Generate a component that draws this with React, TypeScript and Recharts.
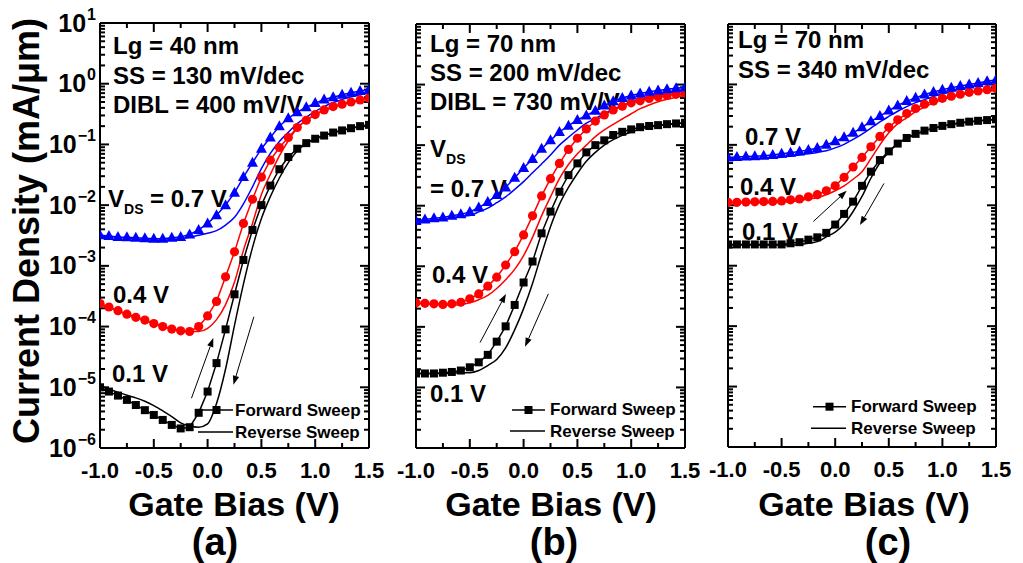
import { ComposedChart, Line, XAxis, YAxis, ReferenceLine } from 'recharts'

const FONT = '"Liberation Sans", Arial, Helvetica, sans-serif'

// gate bias sweep points (V), same grid in all three panels
const gateBias = [
  -1.0, -0.917, -0.833, -0.75, -0.667, -0.583, -0.5, -0.417, -0.333, -0.25, -0.167,
  -0.083, 0.0, 0.083, 0.167, 0.25, 0.333, 0.417, 0.5, 0.583, 0.667, 0.75, 0.833,
  0.917, 1.0, 1.083, 1.167, 1.25, 1.333, 1.417, 1.5
]

// (a) Lg = 40 nm  -- current density in mA/um
const aFwd01 = [1.0e-5, 8.5e-6, 7.3e-6, 6.2e-6, 5.1e-6, 4.2e-6, 3.5e-6, 2.9e-6, 2.4e-6, 2.1e-6, 2.2e-6, 3.8e-6, 8.5e-6, 2.5e-5, 9.0e-5, 3.4e-4, 1.25e-3, 3.9e-3, 1.0e-2, 2.1e-2, 3.9e-2, 6.2e-2, 8.5e-2, 0.105, 0.124, 0.14, 0.157, 0.17, 0.185, 0.2, 0.21]
const aRev01 = [1.05e-5, 9.3e-6, 8.3e-6, 7.4e-6, 6.7e-6, 5.9e-6, 5.0e-6, 4.1e-6, 3.3e-6, 2.6e-6, 2.3e-6, 2.2e-6, 2.5e-6, 5.4e-6, 2.0e-5, 1.05e-4, 5.0e-4, 2.0e-3, 6.0e-3, 1.38e-2, 2.8e-2, 5.0e-2, 7.8e-2, 0.103, 0.123, 0.14, 0.156, 0.17, 0.184, 0.198, 0.21]
const aFwd04 = [2.4e-4, 2.1e-4, 1.83e-4, 1.6e-4, 1.42e-4, 1.28e-4, 1.12e-4, 1.0e-4, 9.1e-5, 8.5e-5, 8.3e-5, 1.0e-4, 1.5e-4, 2.6e-4, 6.6e-4, 1.7e-3, 5.0e-3, 1.25e-2, 2.9e-2, 5.5e-2, 8.9e-2, 0.13, 0.19, 0.25, 0.31, 0.37, 0.42, 0.46, 0.5, 0.54, 0.58]
const aRev04 = [2.3e-4, 2.05e-4, 1.8e-4, 1.6e-4, 1.42e-4, 1.27e-4, 1.12e-4, 1.0e-4, 9.2e-5, 8.6e-5, 8.3e-5, 8.3e-5, 9.3e-5, 1.3e-4, 2.3e-4, 5.4e-4, 1.8e-3, 5.0e-3, 1.5e-2, 3.2e-2, 6.5e-2, 0.115, 0.186, 0.25, 0.31, 0.36, 0.41, 0.45, 0.49, 0.53, 0.56]
const aFwd07 = [3.2e-3, 3.1e-3, 3.0e-3, 2.95e-3, 2.9e-3, 2.85e-3, 2.8e-3, 2.8e-3, 2.9e-3, 3.0e-3, 3.3e-3, 3.9e-3, 5.0e-3, 6.8e-3, 1.0e-2, 1.6e-2, 2.9e-2, 5.0e-2, 8.5e-2, 0.13, 0.2, 0.27, 0.34, 0.41, 0.48, 0.55, 0.6, 0.66, 0.71, 0.76, 0.8]
const aRev07 = [3.2e-3, 3.05e-3, 2.95e-3, 2.85e-3, 2.75e-3, 2.7e-3, 2.65e-3, 2.65e-3, 2.7e-3, 2.8e-3, 2.95e-3, 3.2e-3, 3.45e-3, 3.8e-3, 4.7e-3, 6.3e-3, 1.05e-2, 2.0e-2, 4.0e-2, 7.1e-2, 0.112, 0.158, 0.22, 0.28, 0.35, 0.42, 0.49, 0.55, 0.61, 0.66, 0.71]

// (b) Lg = 70 nm
const bFwd01 = [1.7e-5, 1.7e-5, 1.7e-5, 1.75e-5, 1.8e-5, 1.9e-5, 2.15e-5, 2.6e-5, 3.45e-5, 5.7e-5, 1.02e-4, 2.3e-4, 5.4e-4, 1.2e-3, 3.5e-3, 8.0e-3, 1.7e-2, 3.2e-2, 5.0e-2, 7.6e-2, 0.1, 0.12, 0.147, 0.166, 0.182, 0.198, 0.207, 0.214, 0.222, 0.228, 0.234]
const bRev01 = [1.7e-5, 1.7e-5, 1.7e-5, 1.7e-5, 1.72e-5, 1.75e-5, 1.75e-5, 1.9e-5, 2.3e-5, 2.9e-5, 4.5e-5, 8.9e-5, 2.0e-4, 5.2e-4, 1.6e-3, 4.5e-3, 1.05e-2, 2.0e-2, 3.4e-2, 5.4e-2, 7.6e-2, 0.1, 0.123, 0.145, 0.165, 0.185, 0.2, 0.21, 0.218, 0.225, 0.232]
const bFwd04 = [2.5e-4, 2.45e-4, 2.4e-4, 2.35e-4, 2.4e-4, 2.55e-4, 2.9e-4, 3.5e-4, 4.7e-4, 6.6e-4, 1.05e-3, 1.74e-3, 3.3e-3, 6.8e-3, 1.45e-2, 2.8e-2, 5.0e-2, 8.5e-2, 0.13, 0.185, 0.25, 0.315, 0.38, 0.44, 0.5, 0.54, 0.59, 0.63, 0.66, 0.69, 0.72]
const bRev04 = [2.5e-4, 2.4e-4, 2.35e-4, 2.3e-4, 2.3e-4, 2.35e-4, 2.5e-4, 2.8e-4, 3.3e-4, 4.3e-4, 6.0e-4, 8.9e-4, 1.5e-3, 3.0e-3, 6.8e-3, 1.4e-2, 2.8e-2, 4.8e-2, 7.2e-2, 0.1, 0.138, 0.178, 0.22, 0.27, 0.33, 0.4, 0.46, 0.52, 0.57, 0.62, 0.67]
const bFwd07 = [5.6e-3, 5.9e-3, 6.2e-3, 6.4e-3, 6.8e-3, 7.2e-3, 7.9e-3, 9.3e-3, 1.15e-2, 1.5e-2, 2.0e-2, 2.9e-2, 4.2e-2, 5.9e-2, 8.7e-2, 0.12, 0.165, 0.21, 0.26, 0.31, 0.37, 0.45, 0.53, 0.6, 0.66, 0.71, 0.76, 0.8, 0.84, 0.87, 0.9]
const bRev07 = [5.5e-3, 5.6e-3, 5.8e-3, 6.0e-3, 6.3e-3, 6.7e-3, 6.9e-3, 7.9e-3, 9.1e-3, 1.12e-2, 1.4e-2, 1.86e-2, 2.5e-2, 3.5e-2, 4.9e-2, 6.9e-2, 0.1, 0.135, 0.178, 0.23, 0.275, 0.33, 0.39, 0.45, 0.51, 0.57, 0.62, 0.67, 0.72, 0.76, 0.8]

// (c) Lg = 70 nm, SS = 340
const cFwd01 = [2.25e-3, 2.25e-3, 2.25e-3, 2.25e-3, 2.25e-3, 2.25e-3, 2.25e-3, 2.35e-3, 2.45e-3, 2.7e-3, 2.95e-3, 3.5e-3, 4.8e-3, 7.2e-3, 1.15e-2, 2.1e-2, 3.6e-2, 5.6e-2, 7.8e-2, 0.105, 0.13, 0.152, 0.172, 0.19, 0.206, 0.22, 0.232, 0.242, 0.25, 0.257, 0.265]
const cRev01 = [2.2e-3, 2.2e-3, 2.2e-3, 2.2e-3, 2.2e-3, 2.2e-3, 2.2e-3, 2.2e-3, 2.25e-3, 2.35e-3, 2.5e-3, 3.0e-3, 3.6e-3, 4.9e-3, 7.9e-3, 1.4e-2, 2.8e-2, 5.0e-2, 7.6e-2, 0.105, 0.128, 0.15, 0.17, 0.188, 0.204, 0.217, 0.229, 0.24, 0.249, 0.256, 0.264]
const cFwd04 = [1.12e-2, 1.12e-2, 1.13e-2, 1.14e-2, 1.15e-2, 1.16e-2, 1.18e-2, 1.23e-2, 1.27e-2, 1.38e-2, 1.5e-2, 1.74e-2, 2.1e-2, 2.9e-2, 4.3e-2, 6.2e-2, 9.3e-2, 0.138, 0.195, 0.26, 0.33, 0.4, 0.47, 0.53, 0.59, 0.64, 0.69, 0.74, 0.78, 0.82, 0.86]
const cRev04 = [1.1e-2, 1.1e-2, 1.1e-2, 1.1e-2, 1.1e-2, 1.1e-2, 1.13e-2, 1.15e-2, 1.2e-2, 1.27e-2, 1.33e-2, 1.5e-2, 1.74e-2, 2.1e-2, 2.7e-2, 3.6e-2, 5.9e-2, 0.1, 0.158, 0.224, 0.28, 0.355, 0.42, 0.49, 0.56, 0.62, 0.67, 0.72, 0.77, 0.81, 0.85]
const cFwd07 = [6.2e-2, 6.3e-2, 6.4e-2, 6.5e-2, 6.6e-2, 6.8e-2, 7.1e-2, 7.4e-2, 7.8e-2, 8.2e-2, 8.9e-2, 0.1, 0.115, 0.133, 0.158, 0.195, 0.245, 0.3, 0.37, 0.45, 0.53, 0.6, 0.68, 0.75, 0.82, 0.88, 0.94, 1.0, 1.06, 1.13, 1.19]
const cRev07 = [5.8e-2, 5.85e-2, 5.9e-2, 5.95e-2, 6.0e-2, 6.1e-2, 6.25e-2, 6.5e-2, 6.8e-2, 7.1e-2, 7.5e-2, 8.0e-2, 8.9e-2, 0.102, 0.123, 0.15, 0.19, 0.24, 0.295, 0.36, 0.43, 0.5, 0.56, 0.63, 0.7, 0.77, 0.84, 0.91, 0.98, 1.05, 1.12]

// sweep direction arrows, [gate bias, current] start -> end
const aArrows = [[-0.15, 6.6e-6, 0.053, 6.5e-5], [0.43, 1.45e-4, 0.24, 1.1e-5]]
const bArrows = [[-0.405, 5.5e-5, -0.164, 3.5e-4], [0.23, 3.5e-4, 0.013, 4.7e-5]]
const cArrows = [[-0.204, 5.4e-3, 0.107, 1.74e-2], [0.455, 2.3e-2, 0.231, 4.7e-3]]

// axis ticks
const xMajor = [-1, -0.5, 0, 0.5, 1, 1.5]
const xMinor = [-0.75, -0.25, 0.25, 0.75, 1.25]
const yDecades = [1e-6, 1e-5, 1e-4, 1e-3, 1e-2, 1e-1, 1, 10]
const yExponents = ['\u22126', '\u22125', '\u22124', '\u22123', '\u22122', '\u22121', '0', '1']
const minorSteps = [2, 3, 4, 5, 6, 7, 8, 9]
const yMinor = yDecades.slice(0, -1).flatMap((d) => minorSteps.map((m) => d * m))

const buildRows = (f1: number[], r1: number[], f4: number[], r4: number[], f7: number[], r7: number[]) =>
  gateBias.map((v, i) => ({ v, f1: f1[i], r1: r1[i], f4: f4[i], r4: r4[i], f7: f7[i], r7: r7[i] }))

const panels = [
  { key: 'a', left: 100, right: 369, top: 23, bottom: 448, yLabels: true, arrows: aArrows,
    rows: buildRows(aFwd01, aRev01, aFwd04, aRev04, aFwd07, aRev07) },
  { key: 'b', left: 416, right: 685, top: 24, bottom: 448, yLabels: false, arrows: bArrows,
    rows: buildRows(bFwd01, bRev01, bFwd04, bRev04, bFwd07, bRev07) },
  { key: 'c', left: 728, right: 996, top: 24, bottom: 447, yLabels: false, arrows: cArrows,
    rows: buildRows(cFwd01, cRev01, cFwd04, cRev04, cFwd07, cRev07) }
]

// text drawn behind the data (x, baseline y, text, size)
const notes: [number, number, string, number][] = [
  [113, 54, 'Lg = 40 nm', 24], [113, 83.5, 'SS = 130 mV/dec', 24], [113, 113, 'DIBL = 400 mV/V', 24],
  [150, 207, '= 0.7 V', 24], [113, 303, '0.4 V', 24], [112, 382, '0.1 V', 24],
  [430, 51.5, 'Lg = 70 nm', 24], [430, 80.5, 'SS = 200 mV/dec', 24], [430, 110, 'DIBL = 730 mV/V', 24],
  [430, 197, '= 0.7 V', 24], [432, 283, '0.4 V', 24], [430, 402, '0.1 V', 24],
  [738, 48, 'Lg = 70 nm', 24], [738, 78, 'SS = 340 mV/dec', 24],
  [745, 145, '0.7 V', 24], [740, 195, '0.4 V', 24], [742, 240, '0.1 V', 24]
]
const vdsLabels = [[108, 207], [430, 157]]
const legends = [[200, 410, 432, 235, 416, 438], [512, 410, 431, 550, 415, 436.5], [813, 406.7, 428.3, 851, 411.7, 434]]
const xTitles = [[234, 'a', 215], [551, 'b', 554], [864, 'c', 888]] as const

const bad = (...n: any[]) => n.some((v) => v == null || isNaN(v))

const bottomLabel = (p: any) => (
  <text x={p.x} y={p.y + 30} textAnchor="middle" fontSize={22} fontWeight="bold" fontFamily={FONT} fill="#000">
    {Number(p.payload.value).toFixed(1)}
  </text>
)

const leftLabel = (p: any) => {
  const v = p.payload.value
  const idx = yDecades.findIndex((d) => Math.abs(Math.log10(d) - Math.log10(v)) < 1e-6)
  return (
    <text x={p.x - 4} y={p.y + 8.5} textAnchor="end" fontWeight="bold" fontFamily={FONT} fill="#000">
      <tspan fontSize={25}>10</tspan>
      <tspan fontSize={16} dy={-12} dx={1}>{yExponents[idx]}</tspan>
    </text>
  )
}

const squareDot = (p: any) =>
  bad(p.cx, p.cy) ? <g key={`s${p.index}`} /> : <rect key={`s${p.index}`} x={p.cx - 4} y={p.cy - 4} width={8} height={8} fill="#000" />
const circleDot = (p: any) =>
  bad(p.cx, p.cy) ? <g key={`c${p.index}`} /> : <circle key={`c${p.index}`} cx={p.cx} cy={p.cy} r={4.6} fill="#ff0000" />
const triangleDot = (p: any) =>
  bad(p.cx, p.cy) ? <g key={`t${p.index}`} /> : (
    <polygon key={`t${p.index}`} points={`${p.cx},${p.cy - 6} ${p.cx + 5.5},${p.cy + 4} ${p.cx - 5.5},${p.cy + 4}`} fill="#0000ff" />
  )

const arrowShape = (p: any) => {
  const { x1, y1, x2, y2 } = p
  if (bad(x1, y1, x2, y2)) return <g />
  const ang = Math.atan2(y2 - y1, x2 - x1)
  const len = 9
  const w = 3.2
  const bx = x2 - len * Math.cos(ang)
  const by = y2 - len * Math.sin(ang)
  const nx = -Math.sin(ang) * w
  const ny = Math.cos(ang) * w
  return (
    <g>
      <line x1={x1} y1={y1} x2={bx} y2={by} stroke="#000" strokeWidth={1} />
      <polygon points={`${x2},${y2} ${bx + nx},${by + ny} ${bx - nx},${by - ny}`} fill="#000" />
    </g>
  )
}

const frame = { stroke: '#000', strokeWidth: 2 }

// inward tick marks along each panel frame, as plain line elements
// (same linear / log mapping as the chart axes)
type Seg = { k: string; x1: number; y1: number; x2: number; y2: number }
const frameTicks: Seg[] = panels.flatMap((p) => {
  const sx = (v: number) => p.left + ((v + 1) / 2.5) * (p.right - p.left)
  const sy = (t: number) => p.top + ((1 - Math.log10(t)) / 7) * (p.bottom - p.top)
  const out: Seg[] = []
  const addX = (v: number, n: number) => {
    const x = sx(v)
    out.push({ k: `${p.key}xb${v}`, x1: x, y1: p.bottom, x2: x, y2: p.bottom - n })
    out.push({ k: `${p.key}xt${v}`, x1: x, y1: p.top, x2: x, y2: p.top + n })
  }
  const addY = (t: number, n: number) => {
    const y = sy(t)
    out.push({ k: `${p.key}yl${t}`, x1: p.left, y1: y, x2: p.left + n, y2: y })
    out.push({ k: `${p.key}yr${t}`, x1: p.right, y1: y, x2: p.right - n, y2: y })
  }
  xMajor.forEach((v) => addX(v, 9))
  xMinor.forEach((v) => addX(v, 5))
  yDecades.forEach((t) => addY(t, 9))
  yMinor.forEach((t) => addY(t, 5))
  return out
})

// axes get a 1px band (a 0-size axis is not drawn), margins take that pixel back
function Panel({ spec }: { spec: (typeof panels)[number] }) {
  return (
    <div style={{ position: 'absolute', left: 0, top: 0 }}>
      <ComposedChart
        width={1023}
        height={563}
        data={spec.rows}
        margin={{ left: spec.left - 1, right: 1023 - spec.right - 1, top: spec.top - 1, bottom: 563 - spec.bottom - 1 }}
      >
        <XAxis dataKey="v" type="number" domain={[-1, 1.5]} ticks={xMajor} interval={0} height={1}
          tickSize={0} tickMargin={0} tickLine={false} axisLine={frame} tick={bottomLabel} allowDataOverflow />
        <XAxis xAxisId="top" orientation="top" type="number" domain={[-1, 1.5]} height={1}
          tickLine={false} axisLine={frame} tick={false} allowDataOverflow />
        <YAxis type="number" scale="log" domain={[1e-6, 10]} ticks={yDecades} interval={0} width={1}
          tickSize={0} tickMargin={0} tickLine={false} axisLine={frame} tick={spec.yLabels ? leftLabel : false} allowDataOverflow />
        <YAxis yAxisId="right" orientation="right" type="number" scale="log" domain={[1e-6, 10]} width={1}
          tickLine={false} axisLine={frame} tick={false} allowDataOverflow />

        <Line type="monotone" dataKey="r1" stroke="#000" strokeWidth={1.5} dot={false} activeDot={false} isAnimationActive={false} />
        <Line type="monotone" dataKey="r4" stroke="#ff0000" strokeWidth={1.5} dot={false} activeDot={false} isAnimationActive={false} />
        <Line type="monotone" dataKey="r7" stroke="#0000ff" strokeWidth={1.5} dot={false} activeDot={false} isAnimationActive={false} />
        <Line type="linear" dataKey="f1" stroke="#000" strokeWidth={1.5} dot={squareDot} activeDot={false} isAnimationActive={false} />
        <Line type="linear" dataKey="f4" stroke="#ff0000" strokeWidth={1.5} dot={circleDot} activeDot={false} isAnimationActive={false} />
        <Line type="linear" dataKey="f7" stroke="#0000ff" strokeWidth={1.5} dot={triangleDot} activeDot={false} isAnimationActive={false} />

        {spec.arrows.map((a, i) => (
          <ReferenceLine key={`ar${i}`} segment={[{ x: a[0], y: a[1] }, { x: a[2], y: a[3] }]} shape={arrowShape} ifOverflow="visible" />
        ))}
      </ComposedChart>
    </div>
  )
}

export default function App() {
  return (
    <div style={{ position: 'absolute', left: 0, top: 0, width: 1023, height: 563, background: '#fff', fontFamily: FONT }}>
      <svg width={1023} height={563} style={{ position: 'absolute', left: 0, top: 0 }} fontFamily={FONT} fontWeight="bold">
        {frameTicks.map((s) => (
          <line key={s.k} x1={s.x1} y1={s.y1} x2={s.x2} y2={s.y2} stroke="#000" strokeWidth={2} />
        ))}
        {notes.map(([x, y, t, s], i) => (
          <text key={i} x={x} y={y} fontSize={s} fill="#000">{t}</text>
        ))}
        {vdsLabels.map(([x, y], i) => (
          <text key={`v${i}`} x={x} y={y} fontSize={24} fill="#000">
            V<tspan fontSize={14} dy={7}>DS</tspan>
          </text>
        ))}
        {legends.map(([lx, fy, ry, tx, fb, rb], i) => (
          <g key={`l${i}`}>
            <line x1={lx} y1={fy} x2={lx + 33} y2={fy} stroke="#000" strokeWidth={1.5} />
            <rect x={lx + 12.5} y={fy - 4} width={8} height={8} fill="#000" />
            <line x1={lx - 2} y1={ry} x2={lx + 33} y2={ry} stroke="#000" strokeWidth={1.5} />
            <text x={tx} y={fb} fontSize={17} fill="#000">Forward Sweep</text>
            <text x={tx} y={rb} fontSize={17} fill="#000">Reverse Sweep</text>
          </g>
        ))}
        {xTitles.map(([cx, tag, tagX]) => (
          <g key={tag}>
            <text x={cx} y={516} fontSize={34} textAnchor="middle" fill="#000">Gate Bias (V)</text>
            <text x={tagX} y={555} fontSize={38} textAnchor="middle" fill="#000">({tag})</text>
          </g>
        ))}
        <text x={0} y={0} fontSize={36} textAnchor="middle" fill="#000" transform="translate(38.5 231) rotate(-90)">
          Current Density (mA/μm)
        </text>
      </svg>
      {panels.map((p) => (
        <Panel key={p.key} spec={p} />
      ))}
    </div>
  )
}
